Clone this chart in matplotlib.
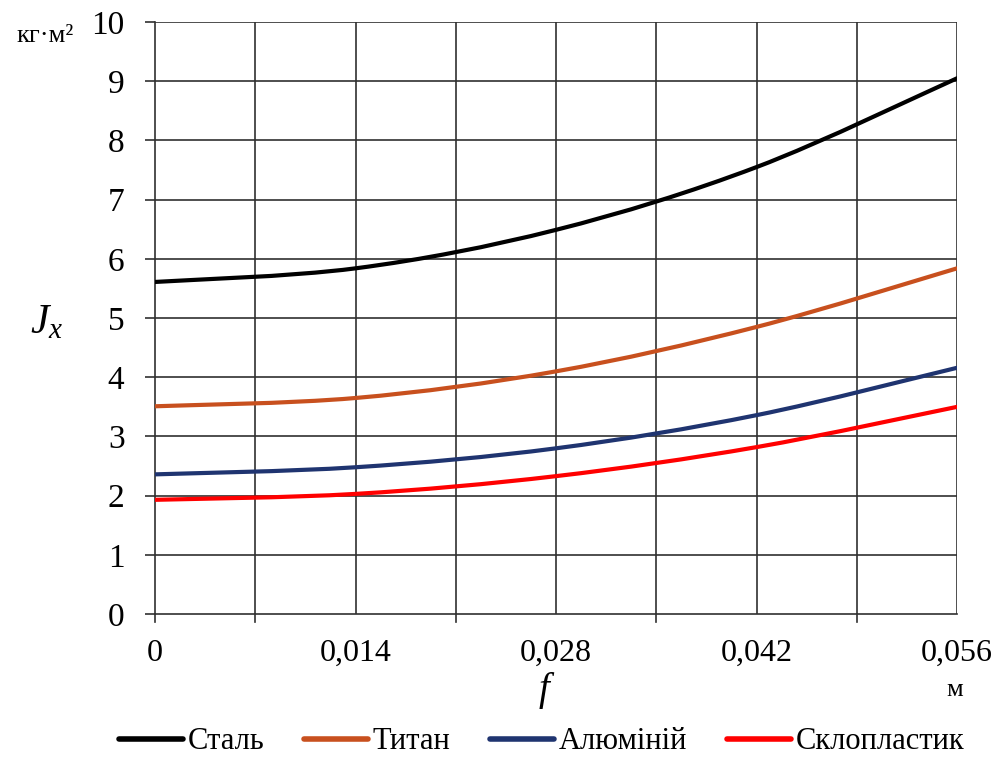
import numpy as np
import matplotlib
matplotlib.use("Agg")
import matplotlib.pyplot as plt
from matplotlib.path import Path
from matplotlib.patches import PathPatch
from matplotlib.lines import Line2D

plt.rcParams['font.family'] = ['Liberation Serif', 'DejaVu Serif']
plt.rcParams['mathtext.fontset'] = 'custom'
plt.rcParams['mathtext.it'] = 'Liberation Serif:italic'
plt.rcParams['mathtext.rm'] = 'Liberation Serif'

f_vals = [0.0, 0.014, 0.028, 0.042, 0.056]
steel = [5.61, 5.84, 6.49, 7.55, 9.05]
titan = [3.51, 3.65, 4.10, 4.85, 5.84]
alum = [2.36, 2.48, 2.80, 3.36, 4.16]
sklo = [1.93, 2.03, 2.33, 2.82, 3.50]

names = ['Сталь', 'Титан', 'Алюміній', 'Склопластик']
colors = ['#000000', '#C8501E', '#1F3470', '#FF0000']
x_ticks = [0, 0.014, 0.028, 0.042, 0.056]
x_tick_labels = ['0', '0,014', '0,028', '0,042', '0,056']


def smooth_path(x, y):
    """Catmull-Rom style cubic Bezier path through the points (like Excel smoothed lines)."""
    pts = np.column_stack([x, y])
    n = len(pts)
    verts = [pts[0]]
    codes = [Path.MOVETO]
    for i in range(n - 1):
        p0 = pts[i - 1] if i > 0 else pts[i]
        p1 = pts[i]
        p2 = pts[i + 1]
        p3 = pts[i + 2] if i + 2 < n else pts[i + 1]
        c1 = p1 + (p2 - p0) / 6
        c2 = p2 - (p3 - p1) / 6
        verts += [c1, c2, p2]
        codes += [Path.CURVE4] * 3
    return Path(verts, codes)


fig = plt.figure(figsize=(9.97, 7.6), dpi=100)
ax = fig.add_axes([0.1555, 0.192, 0.8044, 0.779])

for ys, c in zip([steel, titan, alum, sklo], colors):
    patch = PathPatch(smooth_path(f_vals, ys), facecolor='none', edgecolor=c,
                      lw=3.0, capstyle='round', zorder=3)
    ax.add_patch(patch)

ax.set_xlim(0, 0.056)
ax.set_ylim(0, 10)

# grid every 0.007 along x and every 1 along y
for gx in np.arange(0.007, 0.0561, 0.007):
    ax.axvline(gx, color='#303030', lw=1.2, zorder=1)
for gy in range(1, 11):
    ax.axhline(gy, color='#303030', lw=1.2, zorder=1)

for side in ['top', 'right']:
    ax.spines[side].set_visible(False)
for side in ['left', 'bottom']:
    ax.spines[side].set_color('#303030')
    ax.spines[side].set_linewidth(1.2)

ax.set_yticks(range(0, 11))
ax.tick_params(axis='y', length=7, width=1.2, color='#303030', pad=15, labelsize=24)
ax.set_xticks(x_ticks)
ax.set_xticklabels(x_tick_labels)
ax.tick_params(axis='x', length=0, pad=18, labelsize=23)
# small outward marks below the x axis
for tx in [0, 0.007, 0.021, 0.035, 0.049]:
    ax.plot([tx, tx], [0, -0.14], color='#303030', lw=1.2, clip_on=False, zorder=2)

fig.text(0.047, 0.575, r'$J_x$', fontsize=30, ha='center', va='center')
fig.text(0.548, 0.092, r'$f$', fontsize=28, ha='center', va='center')
fig.text(0.045, 0.952, 'кг·м²', fontsize=19, ha='center', va='center')
fig.text(0.958, 0.092, 'м', fontsize=19, ha='center', va='center')

handles = [Line2D([], [], color=c, lw=4, solid_capstyle='round') for c in colors]
fig.legend(handles, names, loc='center', bbox_to_anchor=(0.543, 0.024), ncol=4,
           frameon=False, fontsize=22, handlelength=2.1, handletextpad=0.15,
           columnspacing=1.3)

fig.savefig('out.png', dpi=100)
